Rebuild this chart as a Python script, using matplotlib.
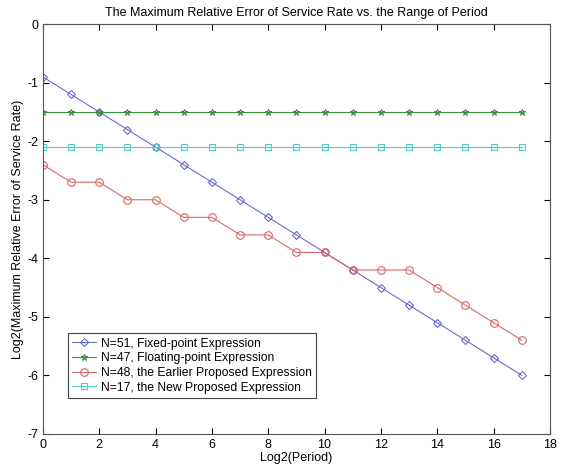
import matplotlib
matplotlib.use("Agg")
import matplotlib.pyplot as plt
import numpy as np

plt.rcParams['font.family'] = ['Liberation Sans', 'DejaVu Sans']
plt.rcParams['axes.unicode_minus'] = False

x = list(range(0, 18))
fixed_point = [-0.9, -1.2, -1.5, -1.8, -2.1, -2.4, -2.7, -3.0, -3.3, -3.6,
               -3.9, -4.2, -4.5, -4.8, -5.1, -5.4, -5.7, -6.0]
floating_point = [-1.5] * 18
earlier = [-2.4, -2.7, -2.7, -3.0, -3.0, -3.3, -3.3, -3.6, -3.6, -3.9,
           -3.9, -4.2, -4.2, -4.2, -4.5, -4.8, -5.1, -5.4]
new_proposed = [-2.1] * 18

labels = ["N=51, Fixed-point Expression",
          "N=47, Floating-point Expression",
          "N=48, the Earlier Proposed Expression",
          "N=17, the New Proposed Expression"]

fig = plt.figure(figsize=(5.64, 4.66), dpi=100)
ax = fig.add_axes([0.076, 0.069, 0.899, 0.879])

lw = 0.8
ax.plot(x, fixed_point, color='#6b6bd0', marker='D', markersize=4, mfc='none', lw=lw, mew=0.8, label=labels[0])
ax.plot(x, floating_point, color='#3a8f3a', marker='*', markersize=4.5, mfc='none', lw=lw, mew=0.8, label=labels[1])
ax.plot(x, earlier, color='#d86868', marker='o', markersize=5.5, mfc='none', lw=lw, mew=0.8, label=labels[2])
ax.plot(x, new_proposed, color='#55c8c8', marker='s', markersize=4.5, mfc='none', lw=lw, mew=0.8, label=labels[3])

ax.set_xlim(0, 18)
ax.set_ylim(-7, 0)
ax.set_xticks(range(0, 19, 2))
ax.set_yticks(range(-7, 1))
ax.tick_params(direction='in', top=True, right=True, labelsize=9, length=4)
for s in ax.spines.values():
    s.set_color('#555555')
    s.set_linewidth(0.8)

ax.set_title("The Maximum Relative Error of Service Rate vs. the Range of Period", fontsize=9, pad=6)
ax.set_xlabel("Log2(Period)", fontsize=9, labelpad=1)
ax.set_ylabel("Log2(Maximum Relative Error of Service Rate)", fontsize=9, labelpad=2)

leg = ax.legend(loc='lower left', bbox_to_anchor=(0.049, 0.088), fontsize=8.7, frameon=True,
                fancybox=False, edgecolor='#444444', framealpha=1, borderpad=0.35,
                labelspacing=0.22, handlelength=2.0, handletextpad=0.4, borderaxespad=0)
leg.get_frame().set_linewidth(0.8)

fig.savefig("out.png", dpi=100)
